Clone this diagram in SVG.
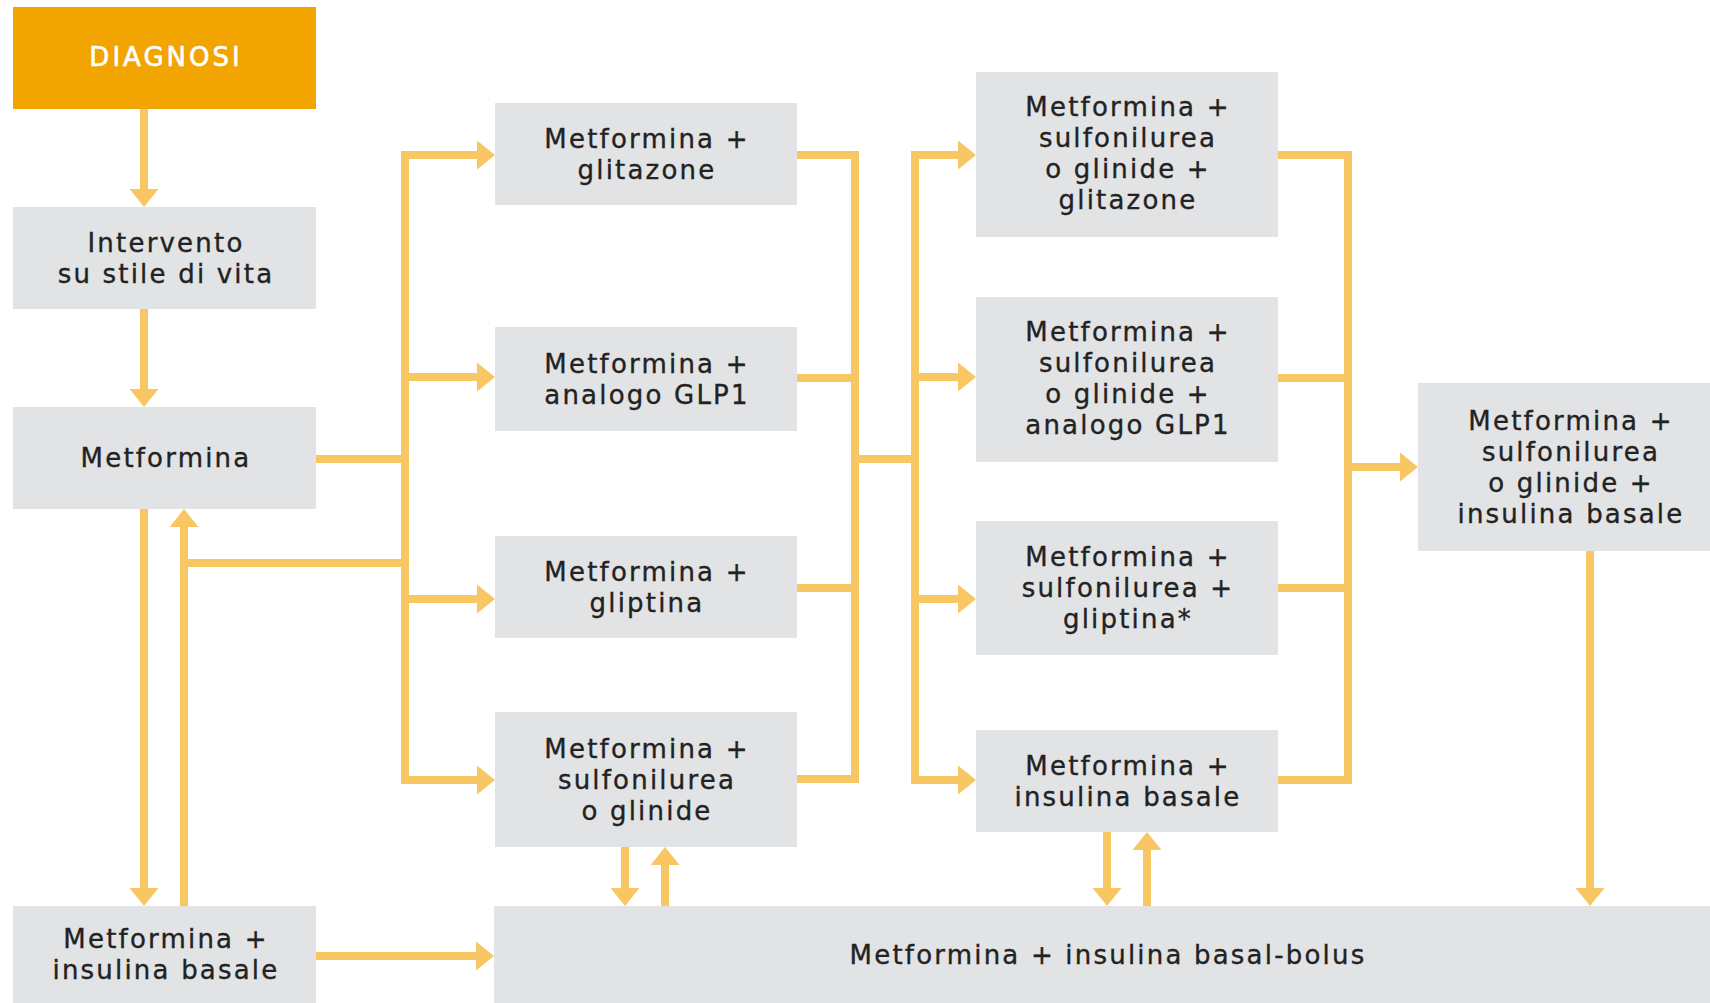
<svg xmlns="http://www.w3.org/2000/svg" width="1710" height="1003" viewBox="0 0 1710 1003">
<style>
.box{fill:#E2E3E5}
.hd{fill:#F2A500}
text{font-family:"DejaVu Sans","Liberation Sans",sans-serif;font-size:26px;fill:#222222;stroke:#222222;stroke-width:0.35px;text-anchor:middle;letter-spacing:2.2px}
.wt{fill:#ffffff;stroke:#ffffff;stroke-width:0.6px;font-size:26px;letter-spacing:3px}
.c path{fill:none;stroke:#F8C662;stroke-width:8}
.c .bus{stroke-linecap:square}
.c .ar{marker-end:url(#ah)}
</style>
<defs>
<marker id="ah" markerUnits="userSpaceOnUse" viewBox="0 -14.5 18 29" markerWidth="18" markerHeight="29" refX="6" refY="0" orient="auto">
<path d="M0,-14.5 L18,0 L0,14.5 z" fill="#F8C662"/>
</marker>
</defs>
<rect width="1710" height="1003" fill="#ffffff"/>
<g id="connectors" class="c">
<path class="ar" d="M144,109 V195"/>
<path class="ar" d="M144,309 V395"/>
<path class="ar" d="M144,509 V894"/>
<path class="ar" d="M184,906 V521"/>
<path d="M405,563 H184"/>
<path d="M316,459 H405"/>
<path class="bus" d="M405,155 V780"/>
<path class="ar" d="M405,155 H483"/>
<path class="ar" d="M405,377 H483"/>
<path class="ar" d="M405,599 H483"/>
<path class="ar" d="M405,780 H483"/>
<path class="bus" d="M855,155 V779"/>
<path d="M797,155 H855"/>
<path d="M797,378 H855"/>
<path d="M797,588 H855"/>
<path d="M797,779 H855"/>
<path d="M855,459 H915"/>
<path class="bus" d="M915,155 V780"/>
<path class="ar" d="M915,155 H964"/>
<path class="ar" d="M915,377 H964"/>
<path class="ar" d="M915,599 H964"/>
<path class="ar" d="M915,780 H964"/>
<path class="bus" d="M1348,155 V780"/>
<path d="M1278,155 H1348"/>
<path d="M1278,378 H1348"/>
<path d="M1278,588 H1348"/>
<path d="M1278,780 H1348"/>
<path class="ar" d="M1348,467 H1406"/>
<path class="ar" d="M1590,551 V894"/>
<path class="ar" d="M625,847 V894"/>
<path class="ar" d="M665,906 V859"/>
<path class="ar" d="M1107,832 V894"/>
<path class="ar" d="M1147,906 V844"/>
<path class="ar" d="M316,956 H482"/>
</g>
<g id="diagnosi"><rect class="hd" x="13" y="7" width="303" height="102"/><text class="wt" x="166" y="66">DIAGNOSI</text></g>
<g id="intervento"><rect class="box" x="13" y="207" width="303" height="102"/><text x="166" y="251.5">Intervento</text><text x="166" y="282.5">su stile di vita</text></g>
<g id="metformina"><rect class="box" x="13" y="407" width="303" height="102"/><text x="166" y="467">Metformina</text></g>
<g id="met-insulina"><rect class="box" x="13" y="906" width="303" height="97"/><text x="166" y="948">Metformina +</text><text x="166" y="979">insulina basale</text></g>
<g id="met-glitazone"><rect class="box" x="495" y="103" width="302" height="102"/><text x="647" y="147.5">Metformina +</text><text x="647" y="178.5">glitazone</text></g>
<g id="met-glp1"><rect class="box" x="495" y="327" width="302" height="104"/><text x="647" y="372.5">Metformina +</text><text x="647" y="403.5">analogo GLP1</text></g>
<g id="met-gliptina"><rect class="box" x="495" y="536" width="302" height="102"/><text x="647" y="580.5">Metformina +</text><text x="647" y="611.5">gliptina</text></g>
<g id="met-sulf"><rect class="box" x="495" y="712" width="302" height="135"/><text x="647" y="757.5">Metformina +</text><text x="647" y="788.5">sulfonilurea</text><text x="647" y="819.5">o glinide</text></g>
<g id="met-sulf-glitazone"><rect class="box" x="976" y="72" width="302" height="165"/><text x="1128" y="116">Metformina +</text><text x="1128" y="147">sulfonilurea</text><text x="1128" y="178">o glinide +</text><text x="1128" y="209">glitazone</text></g>
<g id="met-sulf-glp1"><rect class="box" x="976" y="297" width="302" height="165"/><text x="1128" y="341">Metformina +</text><text x="1128" y="372">sulfonilurea</text><text x="1128" y="403">o glinide +</text><text x="1128" y="434">analogo GLP1</text></g>
<g id="met-sulf-gliptina"><rect class="box" x="976" y="521" width="302" height="134"/><text x="1128" y="566">Metformina +</text><text x="1128" y="597">sulfonilurea +</text><text x="1128" y="628">gliptina*</text></g>
<g id="met-insulina-2"><rect class="box" x="976" y="730" width="302" height="102"/><text x="1128" y="774.5">Metformina +</text><text x="1128" y="805.5">insulina basale</text></g>
<g id="met-sulf-insulina"><rect class="box" x="1418" y="383" width="292" height="168"/><text x="1571" y="429.5">Metformina +</text><text x="1571" y="460.5">sulfonilurea</text><text x="1571" y="491.5">o glinide +</text><text x="1571" y="522.5">insulina basale</text></g>
<g id="basal-bolus"><rect class="box" x="494" y="906" width="1216" height="97"/><text x="1108" y="964">Metformina + insulina basal-bolus</text></g>
</svg>
